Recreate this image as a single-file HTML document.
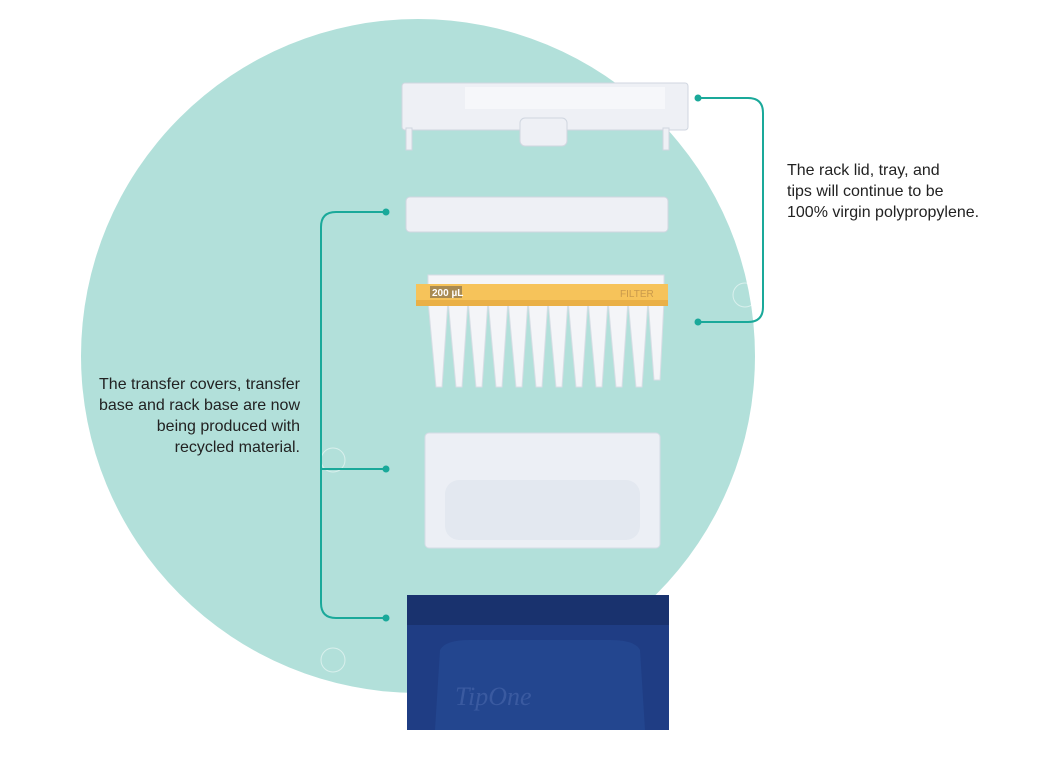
<!DOCTYPE html>
<html><head><style>
body{margin:0;background:#fff;width:1050px;height:762px;overflow:hidden;position:relative;font-family:"Liberation Sans",sans-serif}
.t{position:absolute;font-size:16px;line-height:21px;color:#222}
</style></head><body>
<svg width="1050" height="762" style="position:absolute;left:0;top:0">
<circle cx="418" cy="356" r="337" fill="#b2e0da"/>
<g fill="none" stroke="#fff" stroke-width="1" opacity=".5">
<circle cx="745" cy="115" r="12"/><circle cx="745" cy="295" r="12"/>
<circle cx="333" cy="460" r="12"/><circle cx="333" cy="660" r="12"/>
</g>
<!-- lid -->
<g fill="#eef0f5" stroke="#d0d6e0">
<rect x="402" y="83" width="286" height="47" rx="3"/>
<rect x="520" y="118" width="47" height="28" rx="5"/>
<rect x="406" y="128" width="6" height="22"/><rect x="663" y="128" width="6" height="22"/>
</g>
<rect x="465" y="87" width="200" height="22" fill="#f6f7fa"/>
<!-- transfer cover -->
<rect x="406" y="197" width="262" height="35" rx="4" fill="#eef0f5" stroke="#d0d6e0"/>
<!-- tips -->
<g fill="#f4f5f8" stroke="#d8dde5">
<path d="M428 300 L436 387 L442 387 L448 300Z"/><path d="M448 300 L456 387 L462 387 L468 300Z"/>
<path d="M468 300 L476 387 L482 387 L488 300Z"/><path d="M488 300 L496 387 L502 387 L508 300Z"/>
<path d="M508 300 L516 387 L522 387 L528 300Z"/><path d="M528 300 L536 387 L542 387 L548 300Z"/>
<path d="M548 300 L556 387 L562 387 L568 300Z"/><path d="M568 300 L576 387 L582 387 L588 300Z"/>
<path d="M588 300 L596 387 L602 387 L608 300Z"/><path d="M608 300 L616 387 L622 387 L628 300Z"/>
<path d="M628 300 L636 387 L642 387 L648 300Z"/><path d="M648 300 L654 380 L660 380 L664 300Z"/>
<rect x="428" y="275" width="236" height="10"/>
</g>
<rect x="416" y="284" width="252" height="22" fill="#f6c35a"/>
<rect x="416" y="300" width="252" height="6" fill="#eab046"/>
<rect x="430" y="286" width="32" height="12" fill="#a88a52"/>
<text x="432" y="296" font-size="10" font-weight="bold" fill="#fff" font-family="Liberation Sans">200 µL</text>
<text x="620" y="297" font-size="10" fill="#c99a4c" font-family="Liberation Sans">FILTER</text>
<!-- tray -->
<rect x="425" y="433" width="235" height="115" rx="4" fill="#eceff5" stroke="#d5dbe5"/>
<rect x="445" y="480" width="195" height="60" rx="14" fill="#e3e8f0"/>
<!-- blue base -->
<rect x="407" y="595" width="262" height="135" fill="#1f3d84"/>
<rect x="407" y="595" width="262" height="30" fill="#19326e"/>
<path d="M435 730 L440 650 Q445 640 470 640 L610 640 Q635 640 640 650 L645 730Z" fill="#23468f"/>
<text x="455" y="705" font-size="26" font-style="italic" fill="#3a5aa0" font-family="Liberation Serif">TipOne</text>
<!-- connectors -->
<g stroke="#1aa99a" stroke-width="2" fill="none">
<path d="M698 98 L748 98 Q763 98 763 113 L763 307 Q763 322 748 322 L698 322"/>
<path d="M386 212 L336 212 Q321 212 321 227 L321 603 Q321 618 336 618 L386 618"/>
<path d="M321 469 L386 469"/>
</g>
<g fill="#1aa99a"><circle cx="698" cy="98" r="3.5"/><circle cx="698" cy="322" r="3.5"/>
<circle cx="386" cy="212" r="3.5"/><circle cx="386" cy="469" r="3.5"/><circle cx="386" cy="618" r="3.5"/></g>
</svg>
<div class="t" style="left:787px;top:160px">The rack lid, tray, and<br>tips will continue to be<br>100% virgin polypropylene.</div>
<div class="t" style="right:750px;top:374px;text-align:right">The transfer covers, transfer<br>base and rack base are now<br>being produced with<br>recycled material.</div>
</body></html>
